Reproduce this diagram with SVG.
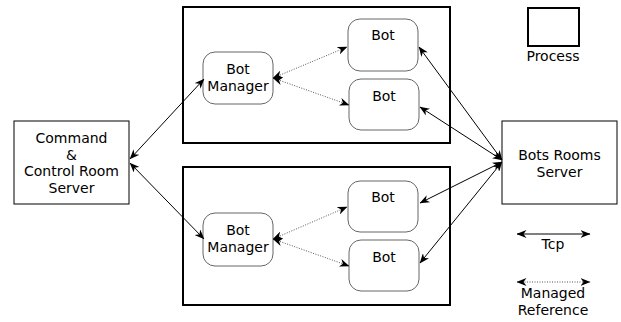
<svg xmlns="http://www.w3.org/2000/svg" width="621" height="322" viewBox="0 0 621 322">
<style>
text{font-family:"DejaVu Sans",Verdana,sans-serif;font-size:14px;fill:#000;text-anchor:middle}
.proc{fill:none;stroke:#000;stroke-width:2}
.srv{fill:#fff;stroke:#000;stroke-width:1}
.rnd{fill:#fff;stroke:#666;stroke-width:1}
.tcp{stroke:#000;stroke-width:1;fill:none;marker-start:url(#ah);marker-end:url(#ah)}
.mgd{stroke:#555;stroke-width:1;stroke-dasharray:1 1.5;fill:none;marker-start:url(#ah);marker-end:url(#ah)}
</style>
<defs>
<marker id="ah" viewBox="0 0 10 8" refX="9.5" refY="4" markerWidth="10" markerHeight="8" markerUnits="userSpaceOnUse" orient="auto-start-reverse">
<path d="M0,0 L10,4 L0,8 L3,4 z" fill="#000"/>
</marker>
</defs>
<g id="process-top"><rect class="proc" x="183" y="7" width="267" height="136"/></g>
<g id="process-bottom"><rect class="proc" x="183" y="167" width="267" height="138"/></g>
<g id="cmd-server"><rect class="srv" x="14" y="121" width="115" height="83"/>
<text x="71.5" y="143">Command</text><text x="71.5" y="159.5">&amp;</text><text x="71.5" y="176">Control Room</text><text x="71.5" y="192.5">Server</text></g>
<g id="bots-rooms-server"><rect class="srv" x="502" y="121" width="115" height="83"/>
<text x="559.5" y="160">Bots Rooms</text><text x="559.5" y="177">Server</text></g>
<g id="bot-manager-1"><rect class="rnd" x="203" y="52" width="70" height="52" rx="12"/>
<text x="238" y="74">Bot</text><text x="238" y="91">Manager</text></g>
<g id="bot-manager-2"><rect class="rnd" x="203" y="213" width="70" height="53" rx="12"/>
<text x="238" y="235">Bot</text><text x="238" y="252">Manager</text></g>
<g id="bot-1"><rect class="rnd" x="348" y="19" width="70" height="52" rx="12"/><text x="383" y="40">Bot</text></g>
<g id="bot-2"><rect class="rnd" x="349" y="79" width="70" height="51" rx="12"/><text x="384" y="101">Bot</text></g>
<g id="bot-3"><rect class="rnd" x="348" y="181" width="70" height="51" rx="12"/><text x="383" y="202">Bot</text></g>
<g id="bot-4"><rect class="rnd" x="349" y="240" width="70" height="51" rx="12"/><text x="384" y="262">Bot</text></g>
<g id="legend-process"><rect class="proc" x="528" y="8" width="51" height="38"/><text x="553" y="61">Process</text></g>
<g id="legend-tcp"><text x="553" y="249">Tcp</text></g>
<g id="legend-managed"><text x="553" y="298">Managed</text><text x="553" y="315">Reference</text></g>
<g id="connectors">
<line class="tcp" x1="130" y1="159" x2="204" y2="79"/>
<line class="tcp" x1="130" y1="163" x2="204" y2="239"/>
<line class="tcp" x1="419" y1="47" x2="502" y2="160"/>
<line class="tcp" x1="420" y1="107" x2="502" y2="160"/>
<line class="tcp" x1="420" y1="203" x2="502" y2="162"/>
<line class="tcp" x1="420" y1="263" x2="502" y2="162"/>
<line class="mgd" x1="273" y1="78" x2="347" y2="47"/>
<line class="mgd" x1="273" y1="78" x2="349" y2="105"/>
<line class="mgd" x1="273" y1="239" x2="347" y2="207"/>
<line class="mgd" x1="273" y1="239" x2="349" y2="266"/>
<line class="tcp" x1="517" y1="234" x2="590" y2="234"/>
<line class="mgd" x1="517" y1="282" x2="590" y2="282"/>
</g>
</svg>
